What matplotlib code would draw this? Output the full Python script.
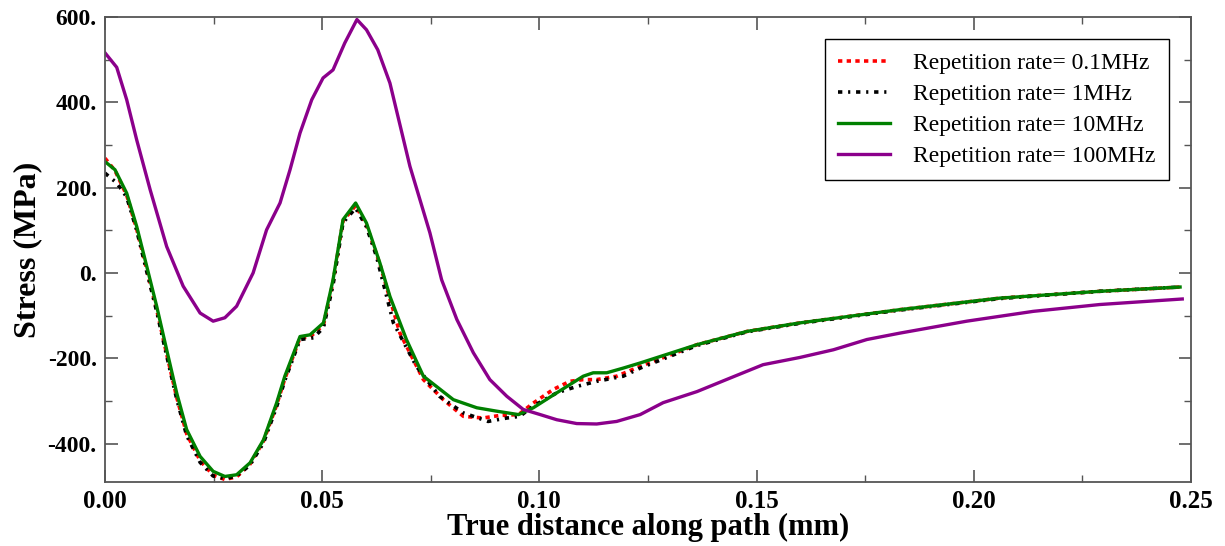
import matplotlib.pyplot as plt
from matplotlib.ticker import MultipleLocator, FuncFormatter

# Repetition rate = 0.1 MHz (red dotted)
x_01 = [0.0, 0.0023, 0.005, 0.0073, 0.0096, 0.0119, 0.0142, 0.0165, 0.0188, 0.0219,
        0.0249, 0.0276, 0.0303, 0.0334, 0.0365, 0.0395, 0.0414, 0.0449, 0.0472, 0.0503,
        0.0525, 0.0548, 0.0577, 0.0602, 0.0633, 0.0679, 0.0733, 0.0779, 0.0825, 0.087,
        0.0909, 0.0952, 0.0986, 0.1032, 0.107, 0.1101, 0.1132, 0.1178, 0.1232, 0.1363,
        0.1478, 0.16, 0.183, 0.206, 0.229, 0.2475]
y_01 = [269, 240, 182, 103, 8, -86, -190, -291, -377, -440,
        -474, -484, -478, -448, -394, -310, -248, -152, -150, -122,
        -22, 122, 158, 112, 20, -141, -250, -297, -336, -340,
        -334, -332, -305, -273, -254, -250, -250, -242, -219, -168,
        -137, -117, -86, -59, -43, -33]

# Repetition rate = 1 MHz (black dash-dot)
x_1 = [0.0, 0.0027, 0.005, 0.0073, 0.0096, 0.0119, 0.0142, 0.0165, 0.0188, 0.0219,
       0.0249, 0.0276, 0.0303, 0.0334, 0.0365, 0.0395, 0.0414, 0.0449, 0.048, 0.0503,
       0.0525, 0.0548, 0.0577, 0.0602, 0.0625, 0.0664, 0.0717, 0.077, 0.0825, 0.0882,
       0.0925, 0.0955, 0.0986, 0.104, 0.1086, 0.1132, 0.1193, 0.1232, 0.1363, 0.1478,
       0.16, 0.183, 0.206, 0.229, 0.2475]
y_1 = [234, 211, 178, 100, 4, -90, -194, -295, -381, -444,
       -476, -482, -476, -450, -398, -314, -252, -156, -152, -128,
       -28, 118, 152, 108, 39, -117, -219, -289, -328, -348,
       -340, -336, -312, -281, -266, -254, -242, -223, -170,
       -138, -118, -87, -60, -43, -33]

# Repetition rate = 10 MHz (green)
x_10 = [0.0, 0.0023, 0.005, 0.0073, 0.0096, 0.0119, 0.0142, 0.0165, 0.0188, 0.0219,
        0.0249, 0.0276, 0.0303, 0.0334, 0.0365, 0.0395, 0.0414, 0.0449, 0.0472, 0.0503,
        0.0525, 0.0548, 0.0577, 0.0602, 0.0633, 0.0656, 0.0694, 0.0733, 0.0802, 0.0856,
        0.0902, 0.0952, 0.0986, 0.104, 0.1101, 0.1124, 0.1155, 0.1193, 0.1232, 0.1363,
        0.1478, 0.16, 0.183, 0.206, 0.229, 0.2475]
y_10 = [261, 242, 187, 109, 16, -78, -180, -281, -367, -430,
        -465, -477, -473, -445, -391, -305, -242, -149, -145, -117,
        -16, 125, 164, 117, 23, -55, -156, -242, -297, -316,
        -324, -332, -316, -281, -242, -234, -234, -223, -211, -168,
        -137, -117, -86, -59, -43, -33]

# Repetition rate = 100 MHz (purple)
x_100 = [0.0, 0.0027, 0.005, 0.0073, 0.0104, 0.0142, 0.018, 0.0219, 0.0249, 0.0276,
         0.0303, 0.0341, 0.0372, 0.0403, 0.0426, 0.0449, 0.0476, 0.0502, 0.0525, 0.0552,
         0.058, 0.0602, 0.0628, 0.0656, 0.0702, 0.0748, 0.0775, 0.081, 0.0848, 0.0886,
         0.0925, 0.0963, 0.1002, 0.104, 0.1086, 0.1132, 0.1178, 0.1232, 0.1285, 0.1363,
         0.144, 0.1515, 0.16, 0.1677, 0.1754, 0.183, 0.1984, 0.2137, 0.229, 0.248]
y_100 = [516, 482, 406, 312, 195, 62, -31, -94, -113, -105,
         -78, 0, 101, 164, 242, 328, 406, 457, 476, 539,
         594, 570, 523, 445, 250, 94, -16, -109, -187, -250,
         -289, -320, -332, -344, -353, -354, -348, -332, -304, -278,
         -246, -215, -198, -180, -156, -141, -113, -90, -74, -61]

labels = ['Repetition rate= 0.1MHz', 'Repetition rate= 1MHz',
          'Repetition rate= 10MHz', 'Repetition rate= 100MHz']

plt.rcParams['font.family'] = ['Liberation Serif', 'DejaVu Serif']

fig = plt.figure(figsize=(12.25, 5.46), dpi=100)
ax = fig.add_axes([0.0857, 0.1172, 0.8865, 0.8517])

ax.plot(x_01, y_01, color='#ff0000', linestyle=(0, (1.2, 1.2)), linewidth=2.6, label=labels[0])
ax.plot(x_1, y_1, color='black', linestyle=(0, (1.2, 1.6, 0.6, 1.6)), linewidth=2.6, label=labels[1])
ax.plot(x_10, y_10, color='#008000', linewidth=2.4, label=labels[2])
ax.plot(x_100, y_100, color='#8b008b', linewidth=2.4, label=labels[3])

ax.set_xlim(0, 0.25)
ax.set_ylim(-490, 600)

ax.xaxis.set_major_locator(MultipleLocator(0.05))
ax.xaxis.set_minor_locator(MultipleLocator(0.025))
ax.yaxis.set_major_locator(MultipleLocator(200))
ax.yaxis.set_minor_locator(MultipleLocator(100))
ax.xaxis.set_major_formatter(FuncFormatter(lambda v, p: '%.2f' % v))
ax.yaxis.set_major_formatter(FuncFormatter(lambda v, p: '%d.' % round(v)))

ax.tick_params(which='both', direction='in', top=True, right=True, color='#555555')
ax.tick_params(which='major', length=9, width=1.2, pad=6)
ax.tick_params(which='minor', length=5, width=1.0)
ax.tick_params(axis='x', which='major', labelsize=18)
ax.tick_params(axis='y', which='major', labelsize=17)
for lab in ax.get_xticklabels() + ax.get_yticklabels():
    lab.set_fontweight('bold')

for s in ax.spines.values():
    s.set_color('#555555')
    s.set_linewidth(1.3)

ax.set_xlabel('True distance along path (mm)', fontsize=22, fontweight='bold', labelpad=0)
ax.set_ylabel('Stress (MPa)', fontsize=23, fontweight='bold', labelpad=4)

leg = ax.legend(loc='upper right', fontsize=17, frameon=True, fancybox=False,
                edgecolor='black', framealpha=1, handlelength=2.2, handletextpad=1.0,
                labelspacing=0.4, borderaxespad=0.95, borderpad=0.55)
leg.get_frame().set_linewidth(1.0)

fig.savefig('out.png', dpi=100)
